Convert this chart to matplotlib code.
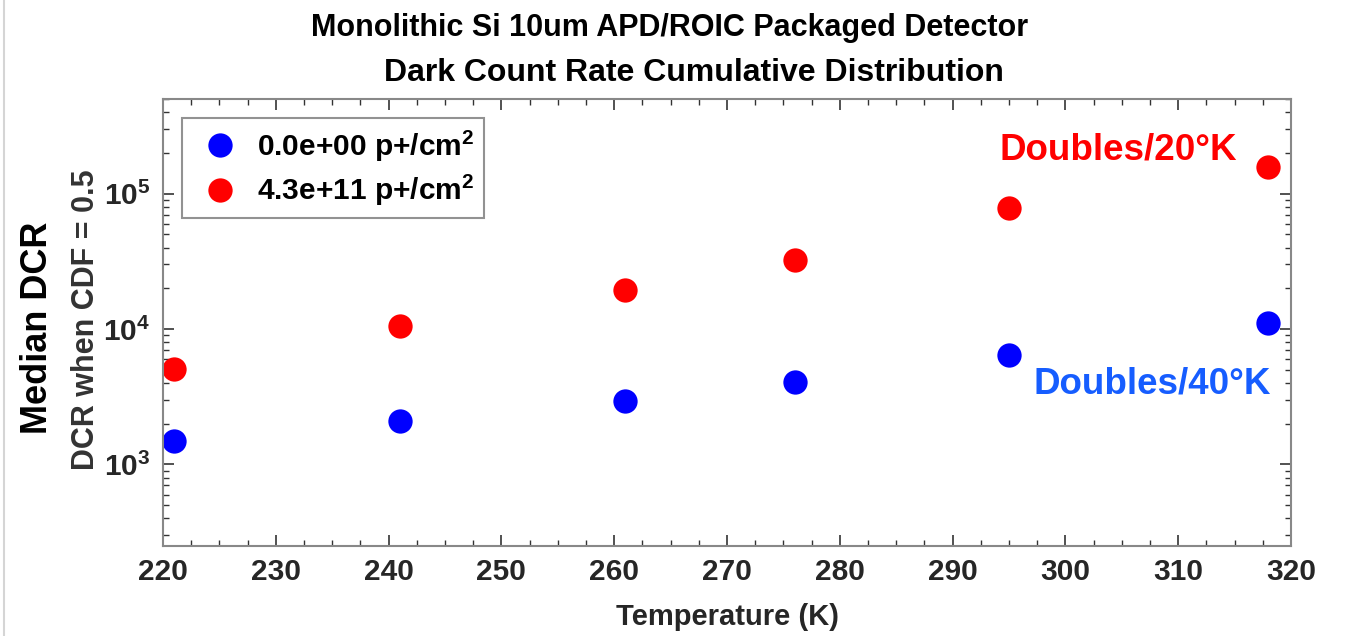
import matplotlib
matplotlib.use("Agg")
import matplotlib.pyplot as plt
from matplotlib.lines import Line2D
from matplotlib.ticker import LogLocator, MultipleLocator, NullFormatter

# data
temps = [221, 241, 261, 276, 295, 318]
dcr_0 = [1500, 2110, 2960, 4080, 6450, 11100]
dcr_irr = [5090, 10600, 19500, 32400, 78100, 156600]
labels = ["0.0e+00 p+/cm$^2$", "4.3e+11 p+/cm$^2$"]
x_ticks = [220, 230, 240, 250, 260, 270, 280, 290, 300, 310, 320]

plt.rcParams['font.family'] = ['Liberation Sans', 'DejaVu Sans']
plt.rcParams['font.weight'] = 'bold'
plt.rcParams['mathtext.fontset'] = 'custom'
plt.rcParams['mathtext.rm'] = 'Liberation Sans:bold'
plt.rcParams['mathtext.it'] = 'Liberation Sans:bold'
plt.rcParams['mathtext.bf'] = 'Liberation Sans:bold'

W, H = 1347, 636
fig = plt.figure(figsize=(W / 100, H / 100), dpi=100)
ax = fig.add_axes([163 / W, 1 - 546 / H, (1291 - 163) / W, (546 - 99) / H])

ax.plot(temps, dcr_0, 'o', color='#0000ff', markersize=17.5, markeredgewidth=0, label=labels[0])
ax.plot(temps, dcr_irr, 'o', color='#ff0000', markersize=17.5, markeredgewidth=0, label=labels[1])

ax.set_yscale('log')
ax.set_xlim(220, 320)
ax.set_ylim(250, 5e5)
ax.set_xticks(x_ticks)
ax.xaxis.set_minor_locator(MultipleLocator(2.5))
ax.yaxis.set_major_locator(LogLocator(base=10, numticks=10))
ax.yaxis.set_minor_locator(LogLocator(base=10, subs=range(2, 10), numticks=10))
ax.yaxis.set_minor_formatter(NullFormatter())

for s in ax.spines.values():
    s.set_color('#888888')
    s.set_linewidth(1.5)
ax.tick_params(which='both', direction='in', top=True, right=True, colors='#333333',
               labelcolor='#262626', labelsize=21.5)
ax.tick_params(which='major', length=8, width=1.2, pad=9)
ax.tick_params(which='minor', length=4, width=1.0)
for t in ax.get_xticklabels() + ax.get_yticklabels():
    t.set_fontweight('bold')

leg = ax.legend(loc='upper left', bbox_to_anchor=(0.0168, 0.957), borderaxespad=0,
                fancybox=False, frameon=True, fontsize=21.5, handletextpad=0.3,
                borderpad=0.35, labelspacing=0.3, handlelength=1.85)
leg.get_frame().set_edgecolor('#777777')
leg.get_frame().set_linewidth(1.5)

# titles and labels
fig.text(670 / W, 1 - 36 / H, "Monolithic Si 10um APD/ROIC Packaged Detector",
         ha='center', va='baseline', fontsize=22, fontweight='bold', color='black')
fig.text(694 / W, 1 - 81 / H, "Dark Count Rate Cumulative Distribution",
         ha='center', va='baseline', fontsize=23, fontweight='bold', color='black')
fig.text(728 / W, 1 - 625 / H, "Temperature (K)", ha='center', va='baseline',
         fontsize=21, fontweight='bold', color='#262626')
fig.text(38 / W, 1 - 328 / H, "Median DCR", rotation=90, ha='center', va='center',
         fontsize=26, fontweight='bold', color='black')
fig.text(86 / W, 1 - 320 / H, "DCR when CDF = 0.5", rotation=90, ha='center', va='center',
         fontsize=22, fontweight='bold', color='#333333')

fig.text(999 / W, 1 - 159 / H, "Doubles/20°K", ha='left', va='baseline',
         fontsize=26.5, fontweight='bold', color='#ff0000')
fig.text(1033 / W, 1 - 393 / H, "Doubles/40°K", ha='left', va='baseline',
         fontsize=26.5, fontweight='bold', color='#165dff')

# thin grey border at the left edge of the screenshot
fig.add_artist(Line2D([4 / W, 4 / W], [0, 1], color='#d5d5d5', linewidth=1.5))

fig.savefig('out.png', dpi=100)
